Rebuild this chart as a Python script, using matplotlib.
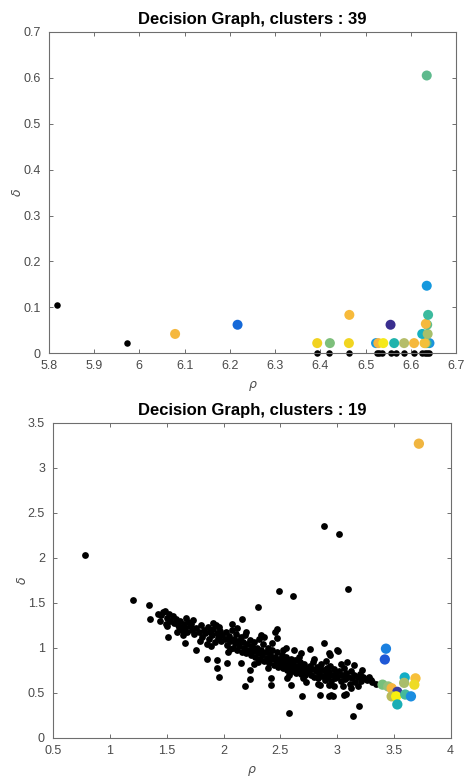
import matplotlib
matplotlib.use('Agg')
import matplotlib.pyplot as plt
from matplotlib.ticker import FuncFormatter

# ---- top panel: 39 clusters ----
top_black_rho = [5.819, 5.973, 6.392, 6.420, 6.464, 6.524, 6.529, 6.536, 6.556, 6.566,
                 6.585, 6.607, 6.624, 6.632, 6.635, 6.641]
top_black_delta = [0.105, 0.022, 0, 0, 0, 0, 0, 0, 0, 0, 0, 0, 0, 0, 0, 0]

top_center_rho = [6.079, 6.217, 6.393, 6.421, 6.463, 6.464, 6.555, 6.523, 6.528, 6.539,
                  6.563, 6.585, 6.607, 6.641, 6.635, 6.632, 6.630, 6.625, 6.637, 6.636,
                  6.633, 6.638, 6.635, 6.635]
top_center_delta = [0.042, 0.062, 0.022, 0.022, 0.022, 0.0835, 0.062, 0.022, 0.022, 0.022,
                    0.022, 0.022, 0.022, 0.022, 0.022, 0.022, 0.022, 0.042, 0.042, 0.062,
                    0.064, 0.0835, 0.147, 0.605]
top_center_color = ['#f5b83f', '#1569d8', '#f1d21f', '#7dbf7b', '#f1d520', '#f7ba3b',
                    '#3a2e8f', '#1798df', '#f6b63e', '#f5e91a', '#21b3ac', '#b5bd6a',
                    '#f5b83c', '#1b92dd', '#2db5a5', '#b7bc68', '#f3c03a', '#17b1c0',
                    '#a6bf6a', '#5fbe8c', '#f6b93e', '#3cba9e', '#1498de', '#5eba8d']

# ---- bottom panel: 19 clusters ----
bot_black_rho = [
    0.78, 1.20, 1.34, 1.35, 2.88, 3.02, 3.10, 2.49, 2.61, 2.30, 2.16, 2.58, 3.14, 3.19,
    1.51, 1.66, 1.76, 1.85, 1.96, 2.19, 2.23, 2.42, 2.42, 2.59, 2.69, 2.85, 2.93, 2.96,
    3.06, 2.88, 3.01, 2.76, 1.94, 2.03, 1.94, 2.15, 2.23, 2.47, 2.45, 2.47, 2.62, 2.68,
    2.93, 2.56, 2.70, 2.73, 2.85, 2.93, 2.95, 3.08, 3.18, 3.15, 3.22, 3.25, 3.30, 3.34,
    1.73, 1.91, 2.07, 1.47, 1.50, 1.61, 2.94, 3.00,
    1.42, 1.45, 1.48, 1.50, 1.52, 1.53, 1.55, 1.44, 1.49, 1.56,
    1.58, 1.60, 1.62, 1.63, 1.65, 1.66, 1.68, 1.69, 1.70, 1.72, 1.74, 1.59, 1.64, 1.71, 1.67,
    1.76, 1.78, 1.80, 1.81, 1.83, 1.84, 1.86, 1.87, 1.88, 1.90, 1.91, 1.92, 1.94, 1.95,
    1.97, 1.98, 1.99, 1.79, 1.85, 1.93, 1.89, 1.96,
    2.01, 2.02, 2.03, 2.05, 2.06, 2.07, 2.08, 2.09, 2.10, 2.11, 2.12, 2.13, 2.14, 2.15,
    2.16, 2.17, 2.18, 2.19, 2.20, 2.21, 2.22, 2.23, 2.24, 2.04, 2.12, 2.20, 2.06, 2.25,
    2.26, 2.27, 2.28, 2.29, 2.30, 2.31, 2.32, 2.33, 2.34, 2.35, 2.36, 2.37, 2.38, 2.39,
    2.40, 2.41, 2.42, 2.43, 2.44, 2.45, 2.46, 2.47, 2.48, 2.49, 2.30, 2.36, 2.43, 2.27,
    2.39, 2.33,
    2.50, 2.51, 2.52, 2.53, 2.54, 2.55, 2.56, 2.57, 2.58, 2.59, 2.60, 2.61, 2.62, 2.63,
    2.64, 2.65, 2.66, 2.67, 2.68, 2.69, 2.70, 2.71, 2.72, 2.73, 2.74, 2.52, 2.58, 2.66, 2.55,
    2.76, 2.77, 2.78, 2.79, 2.80, 2.81, 2.82, 2.83, 2.84, 2.85, 2.86, 2.87, 2.88, 2.89,
    2.90, 2.91, 2.92, 2.93, 2.94, 2.95, 2.96, 2.97, 2.98, 2.99, 2.80, 2.90, 2.83, 2.97,
    3.00, 3.02, 3.03, 3.04, 3.06, 3.07, 3.08, 3.10, 3.11, 3.12, 3.13, 3.15, 3.16, 3.18,
    3.20, 3.21, 3.23, 3.26, 3.28, 3.31, 3.05, 3.12, 3.03, 3.09,
]
bot_black_delta = [
    2.03, 1.53, 1.48, 1.32, 2.36, 2.26, 1.65, 1.63, 1.58, 1.45, 1.32, 0.28, 0.24, 0.35,
    1.12, 1.05, 0.98, 0.87, 0.67, 0.58, 0.65, 0.66, 0.59, 0.59, 0.46, 0.47, 0.46, 0.46,
    0.48, 1.05, 0.96, 0.99, 0.86, 0.83, 0.77, 0.83, 0.75, 1.21, 1.17, 1.11, 0.97, 0.94,
    0.94, 0.66, 0.66, 0.62, 0.59, 0.59, 0.47, 0.49, 0.57, 0.81, 0.75, 0.65, 0.64, 0.60,
    1.31, 1.28, 1.27, 1.40, 1.24, 1.23, 0.92, 0.97,
    1.38, 1.36, 1.41, 1.33, 1.38, 1.30, 1.35, 1.30, 1.27, 1.28,
    1.32, 1.25, 1.30, 1.20, 1.27, 1.22, 1.18, 1.29, 1.24, 1.20, 1.15, 1.18, 1.14, 1.27, 1.33,
    1.22, 1.18, 1.25, 1.12, 1.20, 1.16, 1.23, 1.10, 1.18, 1.14, 1.21, 1.06, 1.16, 1.11,
    1.19, 1.08, 1.14, 1.08, 1.04, 1.25, 1.02, 1.23,
    1.10, 1.17, 1.03, 1.13, 1.07, 1.20, 1.00, 1.10, 1.05, 1.15, 0.97, 1.08, 1.02, 1.12,
    0.95, 1.06, 1.00, 1.14, 0.94, 1.04, 0.98, 1.09, 0.92, 0.95, 1.22, 1.18, 0.99, 1.02,
    0.96, 1.06, 0.90, 1.00, 0.94, 1.10, 0.87, 0.98, 0.92, 1.04, 0.85, 0.95, 0.89, 1.00,
    0.83, 0.93, 0.87, 0.97, 0.81, 0.90, 0.85, 0.95, 0.79, 0.88, 0.84, 1.12, 1.05, 0.82,
    0.78, 1.14,
    0.83, 0.92, 0.77, 0.86, 0.81, 0.90, 0.75, 0.84, 0.79, 0.88, 0.74, 0.82, 0.77, 0.86,
    0.72, 0.80, 0.76, 0.84, 0.71, 0.79, 0.74, 0.82, 0.70, 0.78, 0.73, 0.97, 0.70, 0.90, 1.00,
    0.80, 0.70, 0.76, 0.84, 0.68, 0.74, 0.79, 0.66, 0.72, 0.77, 0.82, 0.69, 0.75, 0.64,
    0.71, 0.78, 0.67, 0.73, 0.80, 0.63, 0.70, 0.76, 0.66, 0.72, 0.88, 0.85, 0.60, 0.58,
    0.68, 0.74, 0.63, 0.70, 0.77, 0.65, 0.72, 0.68, 0.60, 0.74, 0.66, 0.70, 0.62, 0.67,
    0.71, 0.63, 0.68, 0.64, 0.68, 0.62, 0.58, 0.55, 0.82, 0.84,
]

bot_center_rho = [3.72, 3.43, 3.42, 3.595, 3.59, 3.69, 3.68, 3.40, 3.45, 3.48,
                  3.53, 3.48, 3.52, 3.60, 3.65, 3.53]
bot_center_delta = [3.27, 0.99, 0.87, 0.67, 0.61, 0.66, 0.59, 0.59, 0.57, 0.55,
                    0.51, 0.46, 0.46, 0.48, 0.46, 0.37]
bot_center_color = ['#f0b540', '#1a80e0', '#1f58d6', '#13aec6', '#a9bd6b', '#f7c03a',
                    '#eedb25', '#78bf7c', '#94c07a', '#f6b53e', '#3a3d9c', '#b9bb5a',
                    '#f7f00f', '#46b99a', '#1b8de0', '#1aaeb5']

AX_COLOR = '#6e6e6e'
TXT_COLOR = '#4a4a4a'

plt.rcParams['font.family'] = ['Liberation Sans', 'DejaVu Sans']

fig = plt.figure(figsize=(4.65, 7.78), dpi=100)
ax1 = fig.add_axes([0.105, 0.546, 0.876, 0.413])
ax2 = fig.add_axes([0.1146, 0.0518, 0.8546, 0.4045])


def style_axis(ax, title, xlim, ylim, xticks, yticks):
    ax.set_xlim(*xlim)
    ax.set_ylim(*ylim)
    ax.set_xticks(xticks)
    ax.set_yticks(yticks)
    fmt = FuncFormatter(lambda v, p: '%g' % round(v, 3))
    ax.xaxis.set_major_formatter(fmt)
    ax.yaxis.set_major_formatter(fmt)
    for s in ax.spines.values():
        s.set_color(AX_COLOR)
        s.set_linewidth(0.8)
    ax.tick_params(direction='in', length=3, width=0.7, color=AX_COLOR,
                   labelcolor=TXT_COLOR, labelsize=9, top=True, right=True)
    ax.tick_params(axis='x', pad=5)
    ax.tick_params(axis='y', pad=6)
    ax.set_title(title, fontsize=12, fontweight='bold', color='black', pad=6)
    ax.set_xlabel(r'$\rho$', fontsize=9, color=TXT_COLOR, labelpad=5)
    ax.set_ylabel(r'$\delta$', fontsize=9, color=TXT_COLOR, labelpad=0)
    ax.yaxis.set_label_coords(-0.06, 0.5)


# 上图
ax1.scatter(top_black_rho, top_black_delta, s=22, c='black', linewidths=0,
            zorder=2, clip_on=False)
ax1.scatter(top_center_rho, top_center_delta, s=52, c=top_center_color, linewidths=0,
            zorder=3, clip_on=False)
style_axis(ax1, 'Decision Graph, clusters : 39', (5.8, 6.7), (0, 0.7),
           [5.8 + 0.1 * i for i in range(10)], [0.1 * i for i in range(8)])

# 下图
ax2.scatter(bot_black_rho, bot_black_delta, s=24, c='black', linewidths=0,
            zorder=2, clip_on=False)
ax2.scatter(bot_center_rho, bot_center_delta, s=55, c=bot_center_color, linewidths=0,
            zorder=3, clip_on=False)
style_axis(ax2, 'Decision Graph, clusters : 19', (0.5, 4), (0, 3.5),
           [0.5 * i for i in range(1, 9)], [0.5 * i for i in range(8)])

fig.savefig('out.png', dpi=100)
